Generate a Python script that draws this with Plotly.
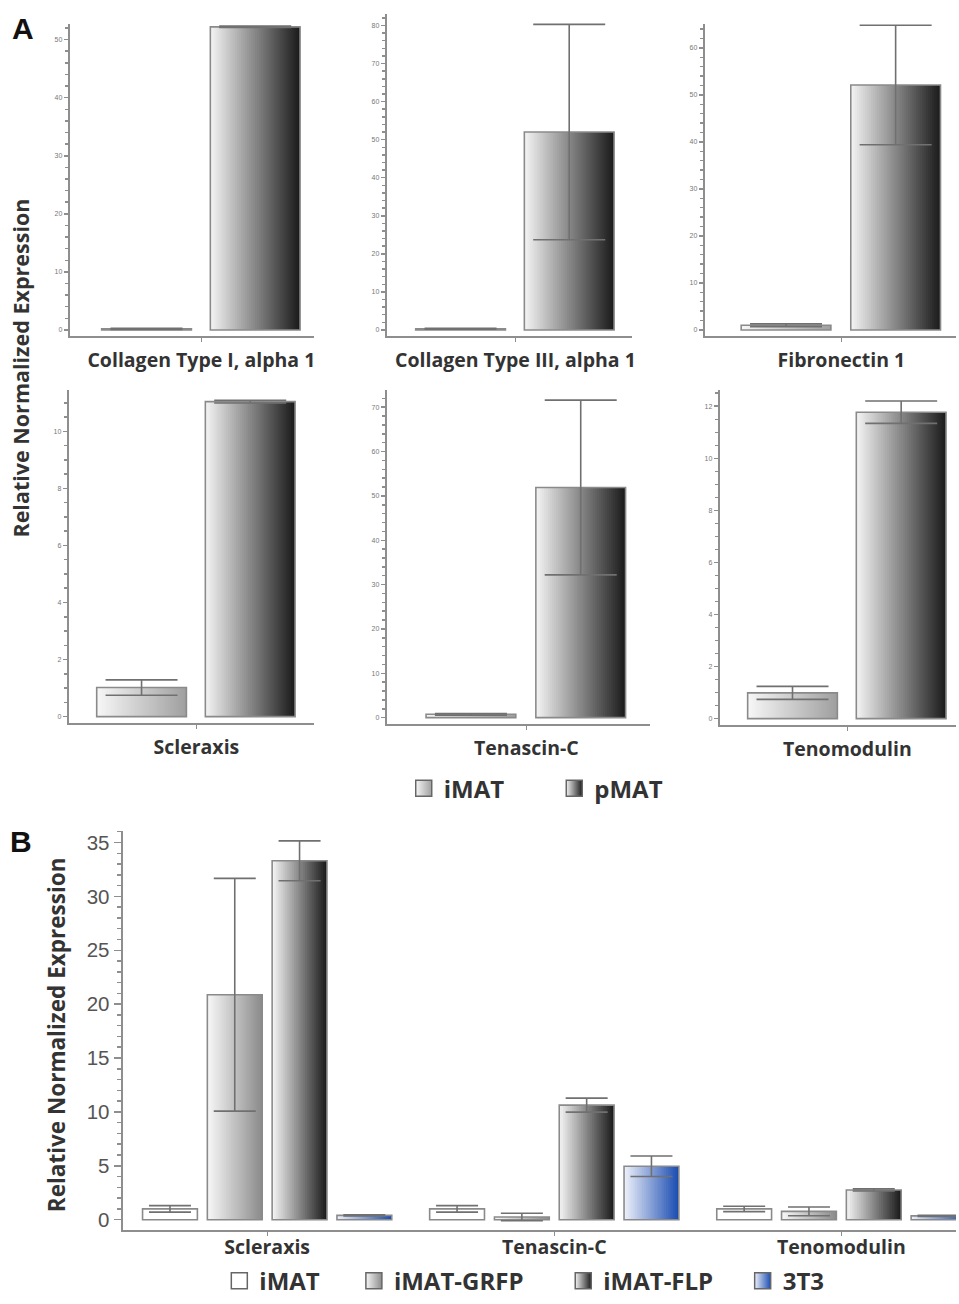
import plotly.graph_objects as go

W, H = 959, 1304

# ---------------- data: panel A ----------------
genes_A = ["Collagen Type I, alpha 1", "Collagen Type III, alpha 1", "Fibronectin 1",
           "Scleraxis", "Tenascin-C", "Tenomodulin"]
imat_A = [0.2, 0.3, 1.0, 1.02, 0.75, 0.99]
imat_A_err = [0.1, 0.12, 0.3, 0.27, 0.2, 0.25]
pmat_A = [52.2, 52.0, 52.1, 11.04, 51.9, 11.77]
pmat_A_err = [0.12, 28.3, 12.7, 0.05, 19.7, 0.43]
ytick_step_A = [10, 10, 10, 2, 10, 2]
ytick_top_A = [50, 80, 60, 10, 70, 12]

# ---------------- data: panel B ----------------
genes_B = ["Scleraxis", "Tenascin-C", "Tenomodulin"]
series_B = ["iMAT", "iMAT-GRFP", "iMAT-FLP", "3T3"]
imat_B = [1.0, 1.0, 1.0]
imat_B_err = [0.3, 0.3, 0.25]
grfp_B = [20.87, 0.25, 0.77]
grfp_B_err = [10.8, 0.35, 0.4]
flp_B = [33.3, 10.63, 2.76]
flp_B_err = [1.85, 0.65, 0.1]
t3_B = [0.4, 4.96, 0.35]
t3_B_err = [0.05, 0.95, 0.05]

# ---------------- layout geometry (pixels) ----------------
geo_A = [
    dict(L=70, R=315, C=202, P=200, bot=338, top=23, y0=332, ytp=39),
    dict(L=388, R=634, C=517, P=200, bot=338, top=13, y0=332, ytp=24.7),
    dict(L=707, R=959, C=844, P=210, bot=338, top=23, y0=332, ytp=47.3),
    dict(L=69, R=315, C=197, P=200, bot=728.3, top=393, y0=722.3, ytp=434.3),
    dict(L=388, R=652, C=528, P=212, bot=729.3, top=393, y0=723.3, ytp=410),
    dict(L=722, R=959, C=850, P=200, bot=730.7, top=393, y0=724.3, ytp=409),
]
geo_B = dict(L=123, R=959, C=268, P=288, bot=1240.7, top=838, y0=1230, ytp=849.3)

AXC = "#8e8e8e"
OUTLINE = "#8a8a8a"
ERRC = "#707070"
TXT = "#333333"
FONT_B = "Open Sans"

GRAD_IMAT_A = ((246, 246, 246), (160, 160, 160))
GRAD_PMAT_A = ((242, 242, 242), (28, 28, 28))
grads_B = [((255, 255, 255), (255, 255, 255)),
           ((246, 246, 246), (140, 140, 140)),
           ((242, 242, 242), (28, 28, 28)),
           ((236, 239, 249), (28, 78, 178))]

fig = go.Figure()


def rgb(c):
    return "rgb(%d,%d,%d)" % c


def lerp(c0, c1, t):
    return rgb(tuple(round(a + (b - a) * t) for a, b in zip(c0, c1)))


def gradient_bar(x, y, err, offset, width, c0, c1, xa, ya, capw, n=40):
    if c0 == c1:
        n = 1
    step = width / n
    for i in range(n):
        t = i / (n - 1) if n > 1 else 0
        wi = min(2 * step, width - i * step)
        fig.add_trace(go.Bar(
            x=x, y=y, offset=offset + i * step, width=wi,
            marker=dict(color=lerp(c0, c1, t), line=dict(width=0)),
            xaxis=xa, yaxis=ya, showlegend=False, hoverinfo="skip"))
    fig.add_trace(go.Bar(
        x=x, y=y, offset=offset, width=width,
        marker=dict(color="rgba(0,0,0,0)", line=dict(color=OUTLINE, width=1.6)),
        error_y=dict(type="data", array=err, color=ERRC, thickness=1.6, width=capw),
        xaxis=xa, yaxis=ya, showlegend=False, hoverinfo="skip"))


layout_axes = {}
n_over = 8
for k in range(6):
    g = geo_A[k]
    sfx = "" if k == 0 else str(k + 1)
    xa, ya = "x" + sfx, "y" + sfx
    scale = (g["y0"] - g["ytp"]) / ytick_top_A[k]
    yr = [-(g["bot"] - g["y0"]) / scale, (g["y0"] - g["top"]) / scale]
    xr = [-(g["C"] - g["L"]) / g["P"], (g["R"] - g["C"]) / g["P"]]
    bw = 0.45 * 200 / g["P"]
    gradient_bar([genes_A[k]], [imat_A[k]], [imat_A_err[k]], -0.05 - bw, bw,
                 GRAD_IMAT_A[0], GRAD_IMAT_A[1], xa, ya, 36, n=44)
    gradient_bar([genes_A[k]], [pmat_A[k]], [pmat_A_err[k]], 0.045, bw,
                 GRAD_PMAT_A[0], GRAD_PMAT_A[1], xa, ya, 36, n=44)
    minor_step = ytick_step_A[k] / 5 if ytick_step_A[k] >= 10 else ytick_step_A[k] / 4
    layout_axes["xaxis" + sfx] = dict(
        domain=[g["L"] / W, min(g["R"] / W, 1)], range=xr, type="category",
        anchor=ya, showline=True, linecolor=AXC, linewidth=2, ticks="outside",
        ticklen=4, tickcolor=AXC, ticklabelstandoff=2,
        tickfont=dict(family=FONT_B, size=19.5, color=TXT, weight="bold"),
        showgrid=False, zeroline=False)
    ydict = dict(
        domain=[1 - g["bot"] / H, 1 - g["top"] / H], range=yr, anchor=xa,
        showline=True, linecolor=AXC, linewidth=2, ticks="outside", ticklen=4,
        tickcolor=AXC, tickwidth=1.5, tick0=0, dtick=ytick_step_A[k],
        tickfont=dict(family="Liberation Sans", size=7, color="#777"),
        minor=dict(ticks="outside", ticklen=2.5, tickcolor=AXC, dtick=minor_step, tick0=0),
        showgrid=False, zeroline=False)
    layout_axes["yaxis" + sfx] = ydict
    ov = dict(ydict)
    ov.update(overlaying=ya, ticks="inside", showticklabels=False, showline=False,
              minor=dict(ticks="inside", ticklen=2.5, tickcolor=AXC, dtick=minor_step, tick0=0))
    ov.pop("domain")
    layout_axes["yaxis%d" % n_over] = ov
    n_over += 1

# panel B
g = geo_B
scaleB = (g["y0"] - g["ytp"]) / 35
yrB = [-(g["bot"] - g["y0"]) / scaleB, (g["y0"] - g["top"]) / scaleB]
xrB = [-(g["C"] - g["L"]) / g["P"], (g["R"] - g["C"]) / g["P"]]
bwB = 55 / g["P"]
pitch = 65 / g["P"]
vals_B = [imat_B, grfp_B, flp_B, t3_B]
errs_B = [imat_B_err, grfp_B_err, flp_B_err, t3_B_err]
for j in range(4):
    gradient_bar(genes_B, vals_B[j], errs_B[j], (j - 2) * pitch + (pitch - bwB) / 2,
                 bwB, grads_B[j][0], grads_B[j][1], "x7", "y7", 21, n=30)

layout_axes["xaxis7"] = dict(
    domain=[g["L"] / W, 1], range=xrB, type="category", anchor="y7",
    showline=True, linecolor=AXC, linewidth=2, ticks="outside", ticklen=4,
    tickcolor=AXC, ticklabelstandoff=-6,
    tickfont=dict(family=FONT_B, size=19.5, color=TXT, weight="bold"),
    showgrid=False, zeroline=False)
yB = dict(
    domain=[1 - g["bot"] / H, 1 - g["top"] / H], range=yrB, anchor="x7",
    showline=True, linecolor=AXC, linewidth=2, ticks="outside", ticklen=7,
    tickcolor=AXC, tickwidth=1.5, tick0=0, dtick=5,
    tickfont=dict(family="Liberation Sans", size=20.5, color="#555"),
    minor=dict(ticks="outside", ticklen=4, tickcolor=AXC, dtick=1, tick0=0),
    showgrid=False, zeroline=False)
layout_axes["yaxis7"] = yB
ovB = dict(yB)
ovB.update(overlaying="y7", ticks="inside", showticklabels=False, showline=False,
           minor=dict(ticks="inside", ticklen=4, tickcolor=AXC, dtick=1, tick0=0))
ovB.pop("domain")
layout_axes["yaxis%d" % n_over] = ovB

# legend entries: one legend per entry so each can be placed like the original
legend_entries = [
    ("iMAT", GRAD_IMAT_A, "x", "y", genes_A[0], 447, 795),
    ("pMAT", GRAD_PMAT_A, "x", "y", genes_A[0], 598, 795),
    (series_B[0], grads_B[0], "x7", "y7", genes_B[0], 262, 1292),
    (series_B[1], grads_B[1], "x7", "y7", genes_B[0], 397, 1292),
    (series_B[2], grads_B[2], "x7", "y7", genes_B[0], 607, 1292),
    (series_B[3], grads_B[3], "x7", "y7", genes_B[0], 787, 1292),
]
legends = {}
for i, (name, grad, xa, ya, xcat, tx, ty) in enumerate(legend_entries):
    lname = "legend" if i == 0 else "legend%d" % (i + 1)
    fig.add_trace(go.Scatter(
        x=[xcat], y=[None], name=name, mode="markers", xaxis=xa, yaxis=ya,
        marker=dict(symbol="square", size=16, color=rgb(grad[0]),
                    gradient=dict(type="horizontal", color=rgb(grad[1])),
                    line=dict(color="#666", width=1.5)),
        legend=lname, hoverinfo="skip"))
    legends[lname] = dict(
        orientation="h", x=(tx - 42) / W, xanchor="left", y=1 - ty / H,
        yanchor="middle", font=dict(family=FONT_B, size=24, color=TXT, weight="bold"),
        bgcolor="rgba(0,0,0,0)", itemclick=False, itemdoubleclick=False)

annotations = [
    dict(text="<b>A</b>", x=10 / W, y=1 - 28 / H, xref="paper", yref="paper",
         xanchor="left", yanchor="middle", showarrow=False,
         font=dict(family="Liberation Sans", size=30, color="#111")),
    dict(text="<b>B</b>", x=8 / W, y=1 - 848 / H, xref="paper", yref="paper",
         xanchor="left", yanchor="middle", showarrow=False,
         font=dict(family="Liberation Sans", size=30, color="#111")),
    dict(text="<b>Relative Normalized Expression</b>", x=21 / W, y=1 - 370 / H,
         xref="paper", yref="paper", textangle=-90, showarrow=False,
         xanchor="center", yanchor="middle",
         font=dict(family=FONT_B, size=21.5, color=TXT)),
    dict(text="<b>Relative Normalized Expression</b>", x=57 / W, y=1 - 1043 / H,
         xref="paper", yref="paper", textangle=-90, showarrow=False,
         xanchor="center", yanchor="middle",
         font=dict(family=FONT_B, size=22.5, color=TXT)),
]

fig.update_layout(
    width=W, height=H, margin=dict(l=0, r=0, t=0, b=0),
    paper_bgcolor="white", plot_bgcolor="white",
    barmode="overlay", showlegend=True,
    annotations=annotations,
    **legends,
    **layout_axes,
)

fig.write_html(
    "out.html",
    config={"displayModeBar": False, "staticPlot": True},
    post_script=(
        "document.body.style.margin='0';"
        "document.documentElement.style.overflow='hidden';"
        "var d=document.getElementById('{plot_id}');"
        "if(d){d.style.position='fixed';d.style.left='0';d.style.top='0';}"
    ),
)
